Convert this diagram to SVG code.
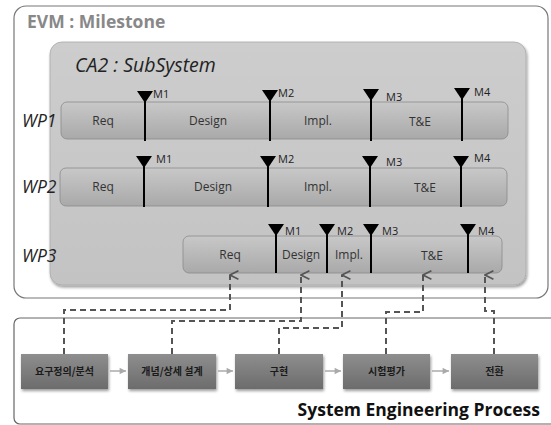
<svg xmlns="http://www.w3.org/2000/svg" width="551" height="425" viewBox="0 0 551 425">
<defs>
<linearGradient id="gCA" x1="0" y1="0" x2="0" y2="1"><stop offset="0" stop-color="#cdcdcd"/><stop offset="1" stop-color="#c3c3c3"/></linearGradient>
<linearGradient id="gWP" x1="0" y1="0" x2="0" y2="1"><stop offset="0" stop-color="#c8c8c8"/><stop offset="1" stop-color="#a9a9a9"/></linearGradient>
<linearGradient id="gSE" x1="0" y1="0" x2="0" y2="1"><stop offset="0" stop-color="#8e8e8e"/><stop offset="1" stop-color="#6c6c6c"/></linearGradient>
<filter id="sh" x="-10%" y="-20%" width="120%" height="150%"><feGaussianBlur in="SourceAlpha" stdDeviation="1.5"/><feOffset dx="1" dy="2"/><feComponentTransfer><feFuncA type="linear" slope="0.4"/></feComponentTransfer><feMerge><feMergeNode/><feMergeNode in="SourceGraphic"/></feMerge></filter>
<marker id="chev" viewBox="0 0 10 10" refX="5" refY="1" markerWidth="12" markerHeight="12" orient="auto-start-reverse" markerUnits="userSpaceOnUse"><path d="M1.5,8 L5,1 L8.5,8" fill="none" stroke="#555" stroke-width="1.4"/></marker>
<marker id="ga" viewBox="0 0 10 10" refX="9" refY="5" markerWidth="8" markerHeight="8" orient="auto" markerUnits="userSpaceOnUse"><path d="M1,1 L9,5 L1,9 z" fill="#aaa"/></marker>
</defs>
<style>
.wpl{font-family:"Open Sans","Noto Sans",sans-serif;font-style:italic;font-size:17.5px;fill:#222}
.ph{font-family:"Open Sans","Noto Sans",sans-serif;font-size:12px;fill:#333;text-anchor:middle}
.ms{font-family:"Open Sans","Noto Sans",sans-serif;font-size:11px;fill:#222}
.tri{fill:#000}
.mline{stroke:#000;stroke-width:2}
.bar{fill:url(#gWP);stroke:#8a8a8a;stroke-width:0.8}
.se{fill:url(#gSE);filter:url(#sh)}
.sel{font-family:"Noto Sans CJK KR","Noto Sans",sans-serif;font-size:10px;font-weight:bold;fill:#1a1a1a;text-anchor:middle}
.dash{fill:none;stroke:#555;stroke-width:2;stroke-dasharray:6 4}
.garr{stroke:#aaa;stroke-width:1.5}
</style>
<g id="evm">
<rect x="14" y="6" width="534" height="292" rx="12" fill="#fff" stroke="#777" stroke-width="1.2"/>
<text x="27" y="28" font-family="Open Sans,Noto Sans,sans-serif" font-size="17.5" font-weight="bold" fill="#888">EVM : Milestone</text>
</g>
<g id="ca2">
<rect x="50" y="42" width="476" height="243" rx="12" fill="url(#gCA)" stroke="#aaa" stroke-width="0.8" filter="url(#sh)"/>
<text x="75" y="72" font-family="Open Sans,Noto Sans,sans-serif" font-style="italic" font-size="19.5" fill="#222">CA2 : SubSystem</text>
</g>
<g id="wp1">
<text class="wpl" x="22" y="127">WP1</text>
<rect class="bar" x="61" y="102" width="447" height="37" rx="6"/>
<text class="ph" x="103" y="125">Req</text>
<text class="ph" x="208" y="125">Design</text>
<text class="ph" x="318" y="125">Impl.</text>
<text class="ph" x="420" y="126">T&amp;E</text>
<line class="mline" x1="145" y1="95" x2="145" y2="141"/>
<path class="tri" d="M137,91 L153,91 L145,103 z"/>
<text class="ms" x="153" y="98">M1</text>
<line class="mline" x1="270" y1="94" x2="270" y2="141"/>
<path class="tri" d="M262,90 L278,90 L270,102 z"/>
<text class="ms" x="278" y="97">M2</text>
<line class="mline" x1="371" y1="93" x2="371" y2="141"/>
<path class="tri" d="M363,89 L379,89 L371,101 z"/>
<text class="ms" x="386" y="101">M3</text>
<line class="mline" x1="462" y1="92" x2="462" y2="141"/>
<path class="tri" d="M454,88 L470,88 L462,100 z"/>
<text class="ms" x="474" y="96">M4</text>
</g>
<g id="wp2">
<text class="wpl" x="22" y="193">WP2</text>
<rect class="bar" x="60" y="168" width="447" height="38" rx="6"/>
<text class="ph" x="103" y="191">Req</text>
<text class="ph" x="213" y="191">Design</text>
<text class="ph" x="318" y="191">Impl.</text>
<text class="ph" x="425" y="192">T&amp;E</text>
<line class="mline" x1="144" y1="160" x2="144" y2="207"/>
<path class="tri" d="M136,156 L152,156 L144,168 z"/>
<text class="ms" x="156" y="163">M1</text>
<line class="mline" x1="268" y1="160" x2="268" y2="207"/>
<path class="tri" d="M260,156 L276,156 L268,168 z"/>
<text class="ms" x="278" y="163">M2</text>
<line class="mline" x1="370" y1="160" x2="370" y2="207"/>
<path class="tri" d="M362,156 L378,156 L370,168 z"/>
<text class="ms" x="386" y="166">M3</text>
<line class="mline" x1="461" y1="160" x2="461" y2="207"/>
<path class="tri" d="M453,156 L469,156 L461,168 z"/>
<text class="ms" x="474" y="162">M4</text>
</g>
<g id="wp3">
<text class="wpl" x="22" y="262">WP3</text>
<rect class="bar" x="183" y="236" width="319" height="37" rx="6"/>
<text class="ph" x="230" y="259">Req</text>
<text class="ph" x="301" y="259">Design</text>
<text class="ph" x="349" y="259">Impl.</text>
<text class="ph" x="432" y="260">T&amp;E</text>
<line class="mline" x1="276" y1="228" x2="276" y2="273"/>
<path class="tri" d="M268,224 L284,224 L276,236 z"/>
<text class="ms" x="285" y="235">M1</text>
<line class="mline" x1="327" y1="228" x2="327" y2="273"/>
<path class="tri" d="M319,224 L335,224 L327,236 z"/>
<text class="ms" x="337" y="235">M2</text>
<line class="mline" x1="371" y1="228" x2="371" y2="273"/>
<path class="tri" d="M363,224 L379,224 L371,236 z"/>
<text class="ms" x="382" y="235">M3</text>
<line class="mline" x1="468" y1="228" x2="468" y2="273"/>
<path class="tri" d="M460,224 L476,224 L468,236 z"/>
<text class="ms" x="478" y="235">M4</text>
</g>
<g id="sep">
<rect x="14" y="318" width="545" height="106" rx="6" fill="#fff" stroke="#666" stroke-width="1.2"/>
<text x="540" y="416" text-anchor="end" font-family="Open Sans,Noto Sans,sans-serif" font-size="17.5" font-weight="bold" fill="#111">System Engineering Process</text>
</g>
<g id="se1"><rect class="se" x="21" y="354" width="87" height="35"/><text class="sel" x="64.5" y="375">요구정의/분석</text></g>
<g id="se2"><rect class="se" x="128" y="354" width="88" height="35"/><text class="sel" x="172" y="375">개념/상세 설계</text></g>
<g id="se3"><rect class="se" x="235" y="354" width="88" height="35"/><text class="sel" x="279" y="375">구현</text></g>
<g id="se4"><rect class="se" x="343" y="354" width="87" height="35"/><text class="sel" x="386.5" y="375">시험평가</text></g>
<g id="se5"><rect class="se" x="451" y="354" width="87" height="35"/><text class="sel" x="494.5" y="375">전환</text></g>
<g id="connectors">
<line class="garr" x1="110" y1="371" x2="126" y2="371" marker-end="url(#ga)"/>
<line class="garr" x1="218" y1="371" x2="233" y2="371" marker-end="url(#ga)"/>
<line class="garr" x1="325" y1="371" x2="341" y2="371" marker-end="url(#ga)"/>
<line class="garr" x1="432" y1="371" x2="449" y2="371" marker-end="url(#ga)"/>
<path class="dash" d="M64,354 V310 H230 V275" marker-end="url(#chev)"/>
<path class="dash" d="M172,354 V321 H301 V275" marker-end="url(#chev)"/>
<path class="dash" d="M279,354 V328 H342 V275" marker-end="url(#chev)"/>
<path class="dash" d="M386,354 V312 H423 V275" marker-end="url(#chev)"/>
<path class="dash" d="M494,354 V311 H485 V275" marker-end="url(#chev)"/>
</g>
</svg>
